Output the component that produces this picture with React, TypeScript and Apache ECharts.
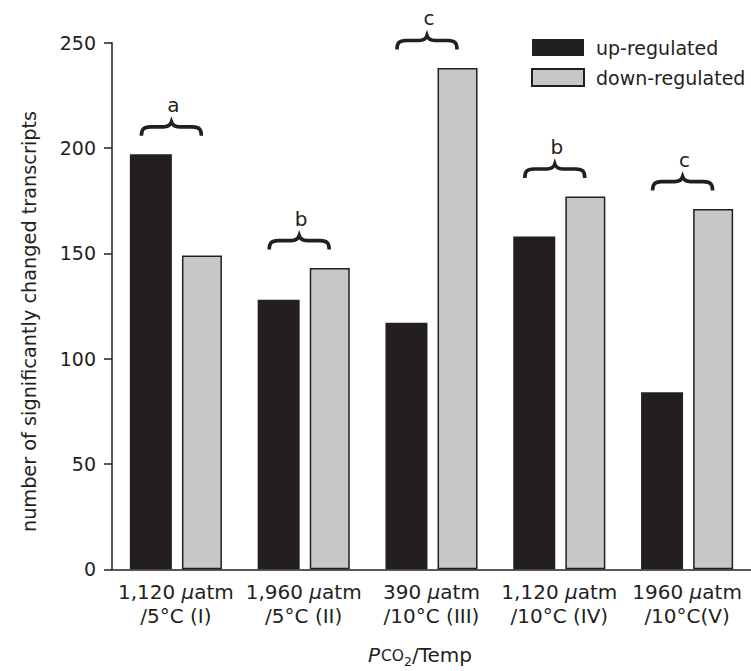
import React, { useEffect, useRef } from "react";
import * as echarts from "echarts";

const pco2Values = ["1,120", "1,960", "390", "1,120", "1960"];
const tempLabels = ["/5°C (I)", "/5°C (II)", "/10°C (III)", "/10°C (IV)", "/10°C(V)"];
const upRegulated = [197, 128, 117, 158, 84];
const downRegulated = [149, 143, 238, 177, 171];
const groupLetters = ["a", "b", "c", "b", "c"];
const seriesNames = ["up-regulated", "down-regulated"];
const yTitle = "number of significantly changed transcripts";

const FONT = "'DejaVu Sans', 'Liberation Sans', Arial, sans-serif";
const INK = "#231f20";
const GRAY = "#c6c7c9";

const categories = pco2Values.map((p, i) => `${p} µatm\n${tempLabels[i]}`);

const BRACE_PATH =
  "M -30 15.5 C -30 9 -28 6.5 -21 6.5 L -8 6.5 C -3.5 6.5 -1 4.5 0 1.5 C 1 4.5 3.5 6.5 8 6.5 L 21 6.5 C 28 6.5 30 9 30 15.5";

function measure(text: string, size: number, italic = false) {
  const c = document.createElement("canvas").getContext("2d");
  if (!c) return text.length * size * 0.6;
  c.font = `${italic ? "italic " : ""}${size}px ${FONT}`;
  return c.measureText(text).width;
}

export default function App() {
  const ref = useRef<HTMLDivElement>(null);

  useEffect(() => {
    if (!ref.current) return;
    const chart = echarts.init(ref.current, undefined, { renderer: "svg" });

    // x-axis title pieces: P (italic), CO (small), 2 (subscript), /Temp
    const pieces = [
      { t: "P", size: 20, italic: true, dy: 0 },
      { t: "CO", size: 15.5, italic: false, dy: 0 },
      { t: "2", size: 12.5, italic: false, dy: 4.5 },
      { t: "/Temp", size: 20, italic: false, dy: 0 },
    ];
    const widths = pieces.map((p) => measure(p.t, p.size, p.italic));
    const total = widths.reduce((a, b) => a + b, 0) + 1;
    const baseline = 661.5;
    let cursor = 420 - total / 2;
    const titleTexts = pieces.map((p, i) => {
      const el = {
        type: "text",
        x: cursor,
        y: baseline + p.dy - 0.35 * p.size,
        style: {
          text: p.t,
          fontSize: p.size,
          fontStyle: p.italic ? "italic" : "normal",
          fontFamily: FONT,
          fill: INK,
          align: "left",
          verticalAlign: "middle",
        },
      };
      cursor += widths[i] + (i === 0 ? 1 : 0);
      return el;
    });

    const braceData = upRegulated.map((u, i) => [i, Math.max(u, downRegulated[i]), i]);

    chart.setOption({
      animation: false,
      grid: { left: 112, top: 42.7, width: 640, height: 526.6, containLabel: false },
      legend: {
        data: seriesNames,
        orient: "vertical",
        left: 531,
        top: 38,
        padding: 0,
        itemWidth: 52,
        itemHeight: 17,
        itemGap: 11,
        icon: "rect",
        textStyle: { fontSize: 19, color: INK, fontFamily: FONT, padding: [0, 0, 0, 7] },
      },
      xAxis: {
        type: "category",
        data: categories,
        axisLine: { lineStyle: { color: INK, width: 1.5 } },
        axisTick: { alignWithLabel: true, length: 8, lineStyle: { color: INK, width: 1.5 } },
        axisLabel: {
          margin: 11,
          interval: 0,
          formatter: (v: string) => {
            const [l1, l2] = v.split("\n");
            const p = l1.replace(" µatm", "");
            return `{n|${p} }{i|µ}{n|atm}\n{n|${l2}}`;
          },
          rich: {
            n: { fontSize: 20, lineHeight: 24, color: INK, fontFamily: FONT },
            i: { fontSize: 20, lineHeight: 24, color: INK, fontFamily: FONT, fontStyle: "italic" },
          },
        },
      },
      yAxis: {
        type: "value",
        min: 0,
        max: 250,
        interval: 50,
        splitLine: { show: false },
        axisLine: { show: true, lineStyle: { color: INK, width: 1.5 } },
        axisTick: { show: true, length: 8, lineStyle: { color: INK, width: 1.5 } },
        axisLabel: { fontSize: 19, color: INK, fontFamily: FONT, margin: 16 },
      },
      series: [
        {
          name: seriesNames[0],
          type: "bar",
          data: upRegulated,
          barWidth: 42,
          barGap: "24%",
          itemStyle: { color: INK },
        },
        {
          name: seriesNames[1],
          type: "bar",
          data: downRegulated,
          barWidth: 40,
          barGap: "24%",
          itemStyle: { color: GRAY, borderColor: INK, borderWidth: 1.5 },
        },
        {
          type: "custom",
          data: braceData,
          encode: { x: 0, y: 1 },
          silent: true,
          z: 5,
          renderItem: (params: any, api: any) => {
            const idx = api.value(0);
            const top = api.value(1);
            const letter = groupLetters[api.value(2)];
            const p = api.coord([idx, top]);
            const yb = p[1] - 17.5;
            const yt = yb - 16.5;
            return {
              type: "group",
              children: [
                {
                  type: "path",
                  x: p[0] - 4.5,
                  y: yt,
                  shape: { pathData: BRACE_PATH },
                  style: { fill: "none", stroke: INK, lineWidth: 3.6 },
                },
                {
                  type: "text",
                  x: p[0] - 2.5,
                  y: yt - 15.5,
                  style: {
                    text: letter,
                    fontSize: 20,
                    fontFamily: FONT,
                    fill: INK,
                    align: "center",
                    verticalAlign: "middle",
                  },
                },
              ],
            };
          },
        },
      ],
      graphic: [
        {
          type: "text",
          x: 29,
          y: 321.5,
          rotation: Math.PI / 2,
          style: {
            text: yTitle,
            fontSize: 19.3,
            fontFamily: FONT,
            fill: INK,
            align: "center",
            verticalAlign: "middle",
          },
        },
        ...titleTexts,
      ],
    });

    return () => chart.dispose();
  }, []);

  return (
    <div
      ref={ref}
      style={{ position: "fixed", left: 0, top: 0, width: 751, height: 671, background: "#fff" }}
    />
  );
}
